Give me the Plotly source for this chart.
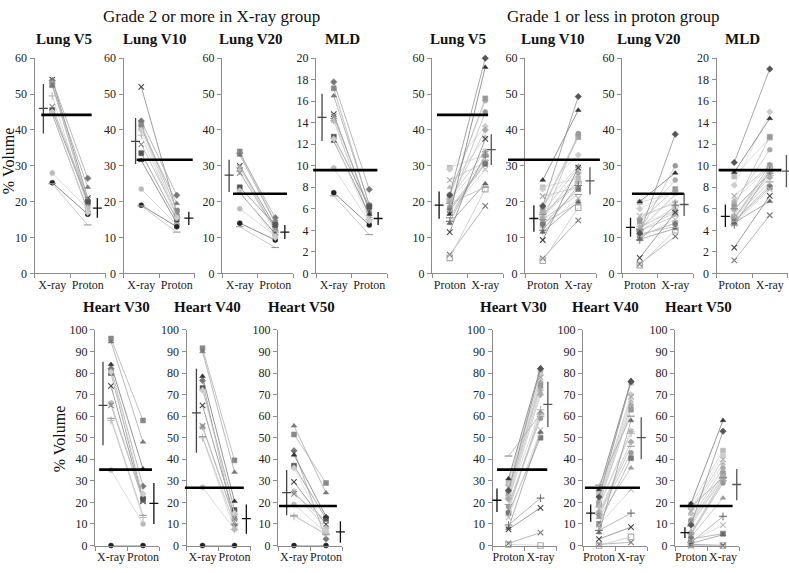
import plotly.graph_objects as go

W, H = 789, 573
FONT = "Liberation Serif, Times New Roman, serif"
AX = "#8c8c8c"

# ------------------------------------------------------------------ data
left_cats = ["X-ray", "Proton"]
right_cats = ["Proton", "X-ray"]
panel_titles = ["Lung V5", "Lung V10", "Lung V20", "MLD", "Heart V30", "Heart V40", "Heart V50"]
thresholds = [44.2, 31.7, 22.2, 9.6, 35.2, 26.8, 18.3]

# Grade >=2 in X-ray group (X-ray value, Proton value) per patient
LV5_x = [54, 53.8, 53, 52.5, 52.3, 49.5, 46.5, 45.5, 44.5, 28, 25.3, 25, 45]
LV5_p = [21, 26.5, 20, 19.5, 24, 18.5, 20.5, 20, 17.5, 18, 16.5, 13.5, 17]
LV10_x = [52, 42.5, 41, 41.5, 40.5, 38.5, 36, 33.5, 31.5, 23.5, 19, 18.8, 40]
LV10_p = [17, 21.8, 16, 17.5, 19.5, 15.5, 16.5, 15, 14, 13.5, 13, 11.5, 15.5]
LV20_x = [30, 33.5, 29.5, 34, 33, 28.5, 28, 24, 22.5, 18, 14, 13, 23]
LV20_p = [13, 15.5, 12, 14.2, 14, 11.5, 12.5, 13.5, 11, 10.5, 9.3, 7.2, 10]
LMLD_x = [14.8, 17.8, 14.2, 17.2, 16.5, 14.4, 14.6, 12.7, 12.3, 9.8, 7.5, 7.2, 12.5]
LMLD_p = [5.8, 7.8, 5.2, 6.3, 6.4, 5.0, 6.0, 6.2, 5.5, 4.8, 4.5, 3.6, 4.9]
LH30_x = [74, 82, 66, 96, 94.5, 58, 65, 80, 84, 35, 0, 59, 80.5]
LH30_p = [20.5, 27.5, 22, 58, 48, 13, 21, 21.5, 35.5, 10, 0, 14, 24]
LH40_x = [65, 76.5, 55, 91.5, 90, 50, 55.5, 73, 78.5, 27, 0, 50.5, 72]
LH40_p = [13.5, 9.5, 12, 39.5, 34, 7.5, 12.5, 16.5, 20.5, 7.5, 0, 10, 15]
LH50_x = [29.5, 44, 25, 51.5, 55.5, 13.5, 24, 37, 42, 19, 0, 14, 36]
LH50_p = [9.8, 3, 8, 29, 24.5, 5.5, 11.5, 12.5, 13.5, 6, 0, 5, 7]
# mean, mean-SD, mean+SD  (X-ray, Proton)
L_stats_x = [(46, 39, 52.8), (36.8, 30.5, 43.3), (27.4, 22.7, 31.7), (14.5, 12.3, 16.7),
             (65, 46.5, 85.2), (61.5, 43, 82), (24.5, 14, 35)]
L_stats_p = [(18.2, 15.5, 21), (15.4, 13.5, 17.2), (11.5, 9.6, 13.5), (5.1, 4.5, 5.7),
             (19.5, 10, 29), (12.5, 5.5, 19), (6.3, 1.3, 11.3)]

# Grade <=1 in proton group (Proton value, X-ray value) per patient
RV5_p = [29.5, 29, 26, 24, 22, 21.5, 21, 20.5, 20, 19.5, 18.5, 18, 17.5, 17, 16.5, 15.5, 14.5, 14, 11.5, 5.2, 21.8, 4.3]
RV5_x = [33, 41, 31, 38, 48.2, 48.8, 34, 31.5, 40, 24, 45, 31, 30.5, 29, 57.5, 32.5, 33, 25, 37.5, 18.8, 60, 23.5]
RV10_p = [24, 23.5, 21.5, 19, 18.5, 18, 17, 16, 15.5, 15, 14.5, 14, 13.5, 12.5, 26, 16.5, 12, 11.5, 9.3, 4.2, 18.8, 3.5]
RV10_x = [26.5, 33, 24, 30, 38.5, 38, 29.5, 25, 28, 22, 39, 19.5, 23.5, 21, 45.5, 25.5, 24.5, 20, 29.5, 14.8, 49.3, 18.3]
RV20_p = [19.8, 18, 16, 15.5, 15, 14.5, 13, 12.5, 12, 11.8, 11.5, 11, 10.5, 10, 20, 12.2, 9.3, 9.5, 4.3, 2.6, 11.2, 2.3]
RV20_x = [22.5, 23, 19.5, 20, 26, 23.5, 17.5, 18.5, 17, 16, 30, 13, 14, 15, 28, 22, 19, 12.5, 17, 10.3, 38.8, 12]
RMLD_p = [9, 8.2, 7.2, 6.8, 6.5, 6.2, 5.9, 5.5, 5.3, 5.2, 5.0, 4.9, 4.8, 4.6, 9.4, 6.0, 4.5, 4.7, 2.4, 1.2, 10.3, 5.1]
RMLD_x = [12.6, 15, 10, 9.9, 11.5, 12.7, 9.3, 9.1, 8.9, 8.5, 10.1, 8.2, 8.0, 7.8, 14.4, 9.3, 9.5, 6.7, 7.2, 5.4, 19, 9.7]
RH30_p = [29, 28, 27, 26, 25, 24.5, 23, 22, 21.5, 19, 18, 16, 15, 13, 31, 41.5, 9.5, 8, 7.5, 1, 25.5, 0.5]
RH30_x = [81, 79, 78, 76, 75.5, 74, 72, 63, 70, 60, 59, 62, 50, 53.5, 82.5, 61, 22, 52.5, 17.5, 6, 82, 0]
RH40_p = [24, 23, 22, 21, 20, 19, 18.5, 18, 15.5, 14.5, 14, 13, 10, 9.5, 26, 28, 7, 6, 3, 0.5, 22.5, 0]
RH40_x = [75.5, 70, 69, 67, 65, 63, 53, 52, 48, 46, 43, 36, 40.5, 26, 76.5, 60, 15, 58, 8.5, 1.5, 76, 4]
RH50_p = [19, 17, 16, 14.5, 12, 11, 10, 9, 6, 5.5, 5, 4, 3, 2, 19.5, 18, 1.5, 1, 0.5, 0, 9.5, 0.3]
RH50_x = [44, 42, 40, 38, 36, 33.5, 32, 31.5, 31, 30, 29, 22, 5.5, 9.5, 58, 31.5, 13.5, 5, 0, 0, 53, 0]
R_stats_p = [(19, 15.2, 22.8), (15.3, 11.6, 19), (12.8, 10.2, 15.5), (5.3, 4.3, 6.4),
             (21, 15.5, 26.5), (15, 11, 19), (6, 3.5, 8.5)]
R_stats_x = [(34.5, 30.2, 38.8), (25.8, 22, 29.6), (19.2, 16, 22.4), (9.5, 8, 11),
             (65.5, 55, 76), (50, 40, 59.5), (28.3, 21, 35.5)]

# ------------------------------------------------------------------ styles
left_styles = [("x-thin-open", "#444"), ("diamond", "#777"), ("asterisk-open", "#aaa"),
               ("square", "#888"), ("triangle-up", "#777"), ("cross-thin-open", "#bbb"),
               ("x-thin-open", "#888"), ("square", "#555"), ("triangle-up", "#333"),
               ("circle", "#bbb"), ("circle", "#222"), ("line-ew-open", "#999"), ("diamond", "#ccc")]
right_styles = [("square", "#bbb"), ("diamond", "#ccc"), ("x-thin-open", "#aaa"), ("triangle-up", "#bbb"),
                ("circle", "#aaa"), ("square", "#999"), ("asterisk-open", "#aaa"), ("cross-thin-open", "#bbb"),
                ("diamond", "#aaa"), ("line-ew-open", "#999"), ("circle", "#999"), ("triangle-up", "#999"),
                ("square", "#777"), ("x-thin-open", "#bbb"), ("triangle-up", "#333"), ("line-ew-open", "#888"),
                ("cross-thin-open", "#777"), ("triangle-up", "#666"), ("x-thin-open", "#444"),
                ("x-thin-open", "#777"), ("diamond", "#555"), ("square-open", "#aaa")]


def lighten(hexc, f=0.3):
    h = hexc.lstrip("#")
    if len(h) == 3:
        h = "".join(c * 2 for c in h)
    r, g, b = (int(h[i:i + 2], 16) for i in (0, 2, 4))
    r, g, b = (int(v + (255 - v) * f) for v in (r, g, b))
    return f"#{r:02x}{g:02x}{b:02x}"


# ------------------------------------------------------------------ layout geometry (pixels)
TOP = (52.5, 273.0)
BOT = (331.0, 552.0)
# (group, panel index, axis x0 px, width px, row, ymax, dtick, cross u1, cross u2, thr u0, thr u1, title cx)
geo = [
    ("L", 0, 34.5, 71, TOP, 60, 10, 0.75, 2.27, 0.69, 2.11, 64),
    ("L", 1, 123.5, 71, TOP, 60, 10, 0.84, 2.34, 0.87, 2.45, 155),
    ("L", 2, 222.0, 71, TOP, 60, 10, 0.70, 2.27, 0.81, 2.33, 251),
    ("L", 3, 316.0, 71, TOP, 20, 2, 0.67, 2.25, 0.42, 2.23, 342),
    ("L", 4, 95.0, 64, BOT, 100, 10, 0.75, 2.34, 0.63, 2.28, 116),
    ("L", 5, 186.5, 64, BOT, 100, 10, 0.81, 2.37, 0.45, 2.29, 207),
    ("L", 6, 278.0, 64, BOT, 100, 10, 0.77, 2.45, 0.53, 2.34, 301),
    ("R", 0, 432.0, 71, TOP, 60, 10, 0.70, 2.17, 0.64, 2.08, 458),
    ("R", 1, 525.0, 71, TOP, 60, 10, 0.75, 2.33, 0.02, 2.61, 553),
    ("R", 2, 622.0, 71, TOP, 60, 10, 0.74, 2.25, 0.78, 2.24, 649),
    ("R", 3, 716.5, 71, TOP, 20, 2, 0.75, 2.47, 0.56, 2.33, 742),
    ("R", 4, 492.5, 64, BOT, 100, 10, 0.64, 2.23, 0.64, 2.21, 513),
    ("R", 5, 583.0, 64, BOT, 100, 10, 0.74, 2.32, 0.56, 2.28, 605),
    ("R", 6, 675.0, 64, BOT, 100, 10, 0.81, 2.43, 0.65, 2.30, 698),
]

left_data = [(LV5_x, LV5_p), (LV10_x, LV10_p), (LV20_x, LV20_p), (LMLD_x, LMLD_p),
             (LH30_x, LH30_p), (LH40_x, LH40_p), (LH50_x, LH50_p)]
right_data = [(RV5_p, RV5_x), (RV10_p, RV10_x), (RV20_p, RV20_x), (RMLD_p, RMLD_x),
              (RH30_p, RH30_x), (RH40_p, RH40_x), (RH50_p, RH50_x)]

fig = go.Figure()
shapes, annotations = [], []
layout_axes = {}
TICKFONT = dict(family=FONT, size=12, color="#222")

for k, (grp, pi, x0, w, row, ymax, dtick, cu1, cu2, tu0, tu1, tcx) in enumerate(geo, start=1):
    xid = "x" if k == 1 else f"x{k}"
    yid = "y" if k == 1 else f"y{k}"
    ytop, ybot = row
    if grp == "L":
        v1, v2 = left_data[pi]
        styles = left_styles
        cats = left_cats
        s1, s2 = L_stats_x[pi], L_stats_p[pi]
        c1, c2 = "#444", "#111"
    else:
        v1, v2 = right_data[pi]
        styles = right_styles
        cats = right_cats
        s1, s2 = R_stats_p[pi], R_stats_x[pi]
        c1, c2 = "#111", "#555"

    layout_axes["xaxis" if k == 1 else f"xaxis{k}"] = dict(
        domain=[x0 / W, (x0 + w) / W], anchor=yid, range=[0.5, 2.5],
        showline=True, linecolor=AX, linewidth=1, showgrid=False, zeroline=False,
        tickmode="array", tickvals=[1, 2], ticktext=cats, ticks="", tickangle=0,
        tickfont=TICKFONT,
        minor=dict(tickmode="array", tickvals=[0.5, 1.5, 2.5], ticks="outside",
                   ticklen=4, tickcolor=AX, showgrid=False),
        fixedrange=True,
    )
    layout_axes["yaxis" if k == 1 else f"yaxis{k}"] = dict(
        domain=[1 - ybot / H, 1 - ytop / H], anchor=xid, range=[0, ymax],
        tick0=0, dtick=dtick, showline=True, linecolor=AX, linewidth=1,
        ticks="outside", ticklen=4, tickcolor=AX, showgrid=False, zeroline=False,
        tickfont=TICKFONT, fixedrange=True,
    )

    # patient lines
    for i, (a, b) in enumerate(zip(v1, v2)):
        sym, col = styles[i % len(styles)]
        thin = sym.endswith("-open")
        fig.add_trace(go.Scatter(
            x=[1, 2], y=[a, b], xaxis=xid, yaxis=yid, mode="lines+markers",
            line=dict(color=lighten(col, 0.35), width=0.8),
            marker=dict(symbol=sym, size=5.5 if thin else 5, color=col,
                        line=dict(color=col, width=1.1 if thin else 0.5)),
            cliponaxis=False, showlegend=False, hoverinfo="skip",
        ))

    # mean +/- SD crosses
    for cu, (m, lo, hi), cc in ((cu1, s1, c1), (cu2, s2, c2)):
        d = (cu - 0.5) / 2
        hw = 4.5 / w
        shapes.append(dict(type="line", xref=f"{xid} domain", yref=yid, x0=d, x1=d, y0=lo, y1=hi,
                           line=dict(color=cc, width=1.3)))
        shapes.append(dict(type="line", xref=f"{xid} domain", yref=yid, x0=d - hw, x1=d + hw, y0=m, y1=m,
                           line=dict(color=cc, width=1.3)))

    # threshold line
    t = thresholds[pi]
    shapes.append(dict(type="line", xref=f"{xid} domain", yref=yid,
                       x0=(tu0 - 0.5) / 2, x1=(tu1 - 0.5) / 2, y0=t, y1=t,
                       line=dict(color="black", width=2.6)))

    # panel title
    ty = 33 if row == TOP else 308
    annotations.append(dict(text=f"<b>{panel_titles[pi]}</b>", x=tcx / W, y=1 - ty / H,
                            xref="paper", yref="paper", showarrow=False,
                            xanchor="center", yanchor="middle",
                            font=dict(family=FONT, size=15, color="#111")))

# group titles
annotations.append(dict(text="Grade 2 or more in X-ray group", x=211 / W, y=1 - 10 / H,
                        xref="paper", yref="paper", showarrow=False, xanchor="center", yanchor="middle",
                        font=dict(family=FONT, size=17, color="#111")))
annotations.append(dict(text="Grade 1 or less in proton group", x=613 / W, y=1 - 10 / H,
                        xref="paper", yref="paper", showarrow=False, xanchor="center", yanchor="middle",
                        font=dict(family=FONT, size=17, color="#111")))
# y titles
for (xc, yc) in ((8, 158), (59, 443)):
    annotations.append(dict(text="% Volume", x=xc / W, y=1 - yc / H, xref="paper", yref="paper",
                            showarrow=False, textangle=-90, xanchor="center", yanchor="middle",
                            font=dict(family=FONT, size=16, color="#111")))

fig.update_layout(
    width=W, height=H, margin=dict(l=0, r=0, t=0, b=0),
    font=dict(family=FONT, color="#222"),
    paper_bgcolor="white", plot_bgcolor="white",
    shapes=shapes, annotations=annotations, showlegend=False,
    hovermode=False,
    **layout_axes,
)

fig.write_html("out.html", config={"displayModeBar": False, "staticPlot": True},
               post_script="document.body.style.margin='0';document.body.style.overflow='hidden';")
